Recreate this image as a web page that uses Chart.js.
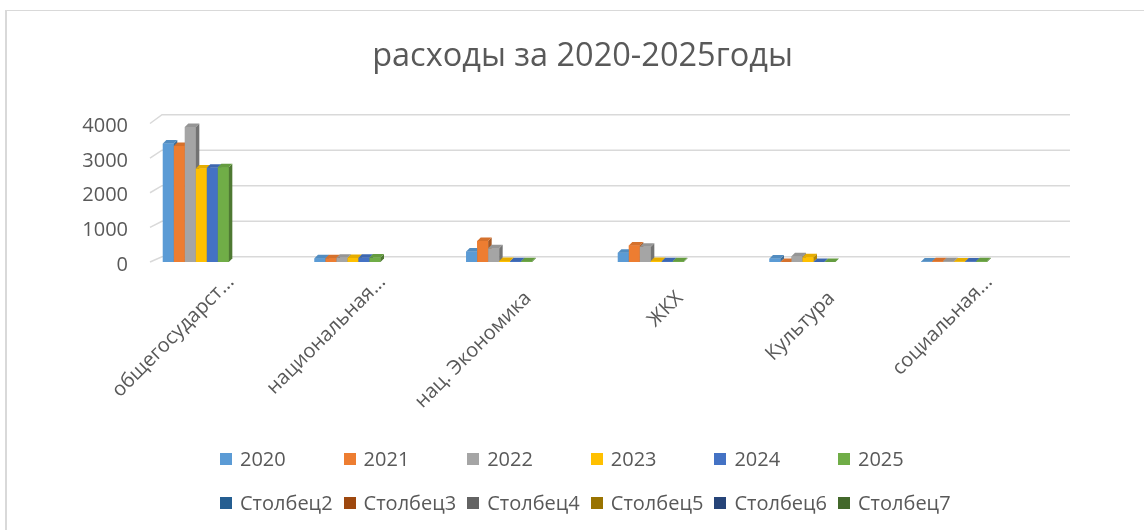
<!DOCTYPE html>
<html><head><meta charset="utf-8">
<script src="https://cdn.jsdelivr.net/npm/chart.js@4.4.1/dist/chart.umd.min.js"></script>
<style>
html,body{margin:0;padding:0;background:#fff;}
#wrap{position:relative;width:1144px;height:530px;overflow:hidden;font-family:"Open Sans",sans-serif;}
#frame{position:absolute;left:5px;top:10px;width:1200px;height:600px;border-left:2px solid #d9d9d9;border-top:1.5px solid #d9d9d9;}
#c{position:absolute;left:0;top:0;}
#legend{position:absolute;left:0;top:0;width:1144px;height:530px;pointer-events:none;}
.li{position:absolute;display:flex;align-items:center;height:26px;font-size:20px;color:#595959;white-space:nowrap;line-height:26px;}
.li .b{display:inline-block;width:12px;height:12px;margin-right:8px;flex:none;}
</style></head>
<body><div id="wrap"><div id="frame"></div><canvas id="c" width="1144" height="530"></canvas><div id="legend"></div></div>
<script>
// ---- data ----
const categories = ['общегосударст...', 'национальная...', 'нац. Экономика', 'ЖКХ', 'Культура', 'социальная...'];
const yearNames = ['2020', '2021', '2022', '2023', '2024', '2025'];
const v2020 = [3420, 105, 300, 270, 100, 15];
const v2021 = [3350, 110, 610, 480, 0, 20];
const v2022 = [3900, 120, 395, 440, 165, 20];
const v2023 = [2700, 118, 30, 30, 135, 15];
const v2024 = [2720, 125, 25, 25, null, 15];
const v2025 = [2740, 130, 25, 25, null, 20];
const extraNames = ['Столбец2', 'Столбец3', 'Столбец4', 'Столбец5', 'Столбец6', 'Столбец7'];
const yTicks = [0, 1000, 2000, 3000, 4000];
const title = 'расходы за 2020-2025годы';

// ---- styles ----
const yearColors = ['#5B9BD5', '#ED7D31', '#A5A5A5', '#FFC000', '#4472C4', '#70AD47'];
const extraColors = ['#255E91', '#9E480E', '#636363', '#997300', '#264478', '#43682B'];
const textColor = '#595959';
const gridColor = '#d9d9d9';

const yearValues = [v2020, v2021, v2022, v2023, v2024, v2025];
const datasets = [];
yearNames.forEach((n, i) => datasets.push({label: n, data: yearValues[i], backgroundColor: yearColors[i], xAxisID: 'x', yAxisID: 'y'}));
extraNames.forEach((n, i) => datasets.push({label: n, data: [], backgroundColor: extraColors[i], hidden: true, xAxisID: 'x', yAxisID: 'y'}));

function shade(hex, f) {
  const n = parseInt(hex.slice(1), 16);
  const r = Math.round(((n >> 16) & 255) * f), g = Math.round(((n >> 8) & 255) * f), b = Math.round((n & 255) * f);
  return 'rgb(' + Math.min(r,255) + ',' + Math.min(g,255) + ',' + Math.min(b,255) + ')';
}
function poly(ctx, pts) {
  ctx.beginPath(); ctx.moveTo(pts[0], pts[1]);
  for (let i = 2; i < pts.length; i += 2) ctx.lineTo(pts[i], pts[i+1]);
  ctx.closePath(); ctx.fill();
}
function noLabelClip(s) { s._computeLabelArea = function() { return undefined; }; }

const backGrid = {
  id: 'backGrid',
  beforeDatasetsDraw(chart) {
    const ys = chart.scales.y, a = chart.chartArea, ctx = chart.ctx;
    ctx.save();
    ctx.strokeStyle = gridColor; ctx.lineWidth = 1.5;
    yTicks.forEach(v => {
      const yf = ys.getPixelForValue(v);
      const yb = ys.getPixelForValue(v * 1.025) - 5.3;
      ctx.beginPath();
      ctx.moveTo(a.left + 30, yf);
      ctx.lineTo(a.left + 42, yb);
      ctx.lineTo(a.right + 40, yb);
      ctx.stroke();
    });
    ctx.restore();
  }
};

const depth3d = {
  id: 'depth3d',
  afterDatasetsDraw(chart) {
    const ctx = chart.ctx, dx = 3.5, dy = -3.5;
    const metas = chart.getSortedVisibleDatasetMetas();
    const n = chart.data.labels.length;
    ctx.save();
    for (let i = 0; i < n; i++) {
      for (const meta of metas) {
        const el = meta.data[i];
        if (!el || el.skip) continue;
        const p = el.getProps(['x', 'y', 'base', 'width'], true);
        if (isNaN(p.y) || isNaN(p.base)) continue;
        const l = p.x - p.width / 2, r = p.x + p.width / 2;
        const top = Math.min(p.y, p.base), bot = Math.max(p.y, p.base);
        const c = chart.data.datasets[meta.index].backgroundColor;
        ctx.fillStyle = c; ctx.fillRect(l, top, r - l, bot - top);
        ctx.fillStyle = shade(c, 0.7); poly(ctx, [r, top, r + dx, top + dy, r + dx, bot + dy, r, bot]);
        ctx.fillStyle = shade(c, 0.9); poly(ctx, [l, top, l + dx, top + dy, r + dx, top + dy, r, top]);
      }
    }
    ctx.restore();
  }
};

Chart.defaults.font.family = "'Open Sans', sans-serif";
Chart.defaults.color = textColor;

const chart = new Chart(document.getElementById('c'), {
  type: 'bar',
  data: {labels: categories, datasets: datasets},
  options: {
    responsive: false, animation: false, devicePixelRatio: 1,
    layout: {padding: {left: 21, right: 0, top: 0, bottom: 0}},
    categoryPercentage: 0.435, barPercentage: 1,
    plugins: {
      legend: {display: false}, tooltip: {enabled: false},
      title: {display: true, text: title, color: textColor, font: {size: 32.5, weight: 'normal'}, padding: {top: 37.5, bottom: 47}}
    },
    scales: {
      y: {
        min: 0, max: 4000,
        afterBuildTicks: s => { s.ticks = yTicks.map(v => ({value: v})); },
        afterFit: s => { s.width = 99; noLabelClip(s); },
        grid: {display: false, drawTicks: false}, border: {display: false},
        ticks: {padding: -8, labelOffset: 3, color: textColor, font: {size: 20}, callback: v => String(v)}
      },
      y2: {
        type: 'linear', position: 'right', display: true,
        afterFit: s => { s.width = 114; },
        grid: {display: false, drawTicks: false}, border: {display: false},
        ticks: {display: false}
      },
      x: {
        weight: 0, offset: true,
        afterFit: s => { s.height = 268; noLabelClip(s); },
        grid: {display: false, drawTicks: false}, border: {display: false},
        ticks: {autoSkip: false, minRotation: 45, maxRotation: 45, labelOffset: 29, padding: 24.5, color: textColor, font: {size: 20},
          callback: function(v) { const l = this.getLabelForValue(v); return l.endsWith('...') ? '' : l; }}
      },
      x2: {
        type: 'category', position: 'bottom', weight: 1, offset: true,
        afterFit: s => { s.height = 0; noLabelClip(s); },
        grid: {display: false, drawTicks: false}, border: {display: false},
        ticks: {autoSkip: false, minRotation: 45, maxRotation: 45, labelOffset: 35, padding: -259.7, color: textColor, font: {size: 20},
          callback: function(v) { const l = this.getLabelForValue(v); return l.endsWith('...') ? l : ''; }}
      }
    }
  },
  plugins: [backGrid, depth3d]
});

// HTML legend built from the chart's datasets
const leg = document.getElementById('legend');
chart.data.datasets.forEach((ds, i) => {
  const row = Math.floor(i / 6), col = i % 6;
  const d = document.createElement('div');
  d.className = 'li';
  d.style.left = (220 + col * 123.6) + 'px';
  d.style.top = ((row === 0 ? 459 : 503) - 13) + 'px';
  const b = document.createElement('span'); b.className = 'b'; b.style.background = ds.backgroundColor;
  d.appendChild(b);
  d.appendChild(document.createTextNode(ds.label));
  leg.appendChild(d);
});
</script>
</body></html>
